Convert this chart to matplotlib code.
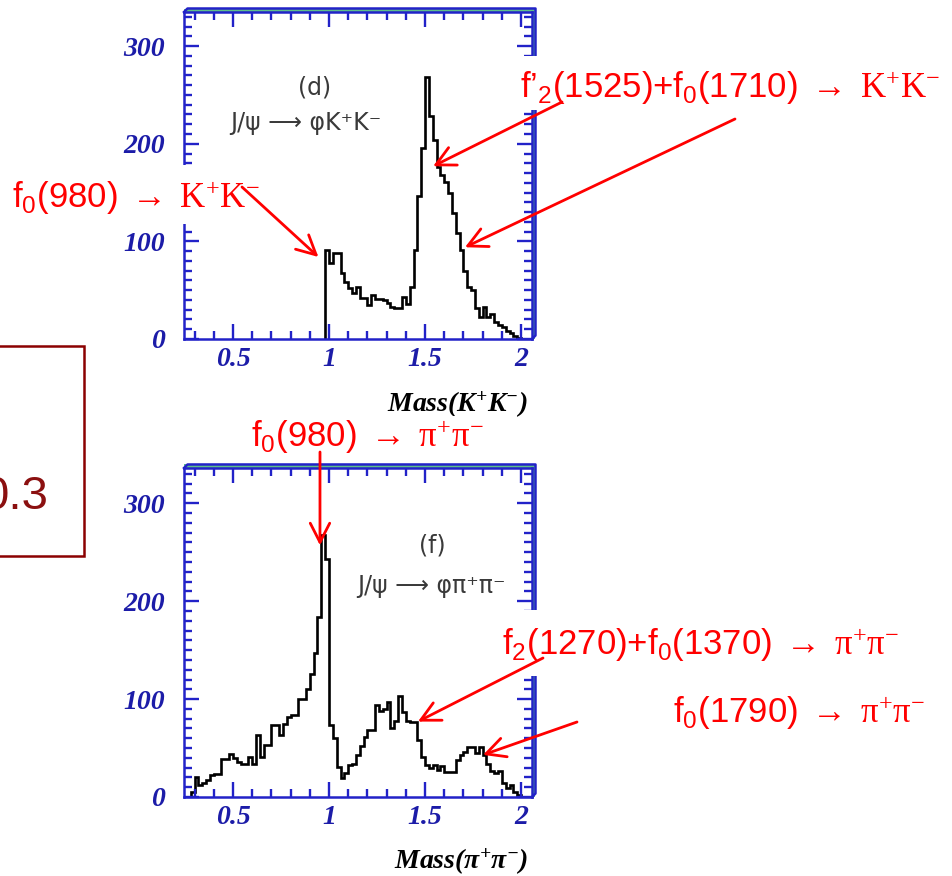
import numpy as np
import matplotlib
matplotlib.use('Agg')
import matplotlib.pyplot as plt
from matplotlib.patches import Rectangle
from matplotlib.lines import Line2D
from matplotlib.text import Annotation

plt.rcParams['mathtext.fontset'] = 'custom'
plt.rcParams['mathtext.rm'] = 'Liberation Sans'
plt.rcParams['mathtext.sf'] = 'Liberation Serif'
plt.rcParams['mathtext.it'] = 'Liberation Sans:italic'
plt.rcParams['mathtext.bfit'] = 'Liberation Serif:italic:bold'

# %% data
bin_width = 0.02

# phi K+K- mass spectrum, panel (d)
kk_start = 0.98
kk_counts = [91, 78, 88, 88, 68, 58, 52, 47, 53, 42,
             42, 35, 45, 41, 41, 40, 37, 33, 32, 32,
             43, 36, 53, 91, 146, 196, 268, 228, 204, 176,
             168, 161, 150, 129, 109, 91, 70, 53, 50, 32,
             23, 33, 23, 26, 17, 14, 12, 8, 6, 3, 1]

# phi pi+pi- mass spectrum, panel (f)
pp_start = 0.28
pp_counts = [5, 20, 12, 14, 17, 22, 24, 24, 39, 39,
             44, 40, 36, 34, 34, 41, 34, 63, 41, 53,
             53, 74, 74, 63, 75, 82, 84, 84, 100, 100,
             110, 126, 147, 184, 268, 243, 74, 60, 31, 19,
             25, 33, 34, 43, 52, 61, 68, 68, 94, 88,
             90, 97, 70, 78, 103, 87, 78, 77, 77, 58,
             41, 33, 30, 33, 28, 32, 26, 26, 26, 38,
             43, 46, 51, 51, 45, 51, 43, 34, 27, 25,
             27, 14, 9, 12, 5, 2]

x_ticks = [0.5, 1, 1.5, 2]
x_tick_labels = ['0.5', '1', '1.5', '2']
y_ticks = [0, 100, 200, 300]
y_tick_labels = ['0', '100', '200', '300']

kk_edges = kk_start + bin_width * np.arange(len(kk_counts) + 1)
pp_edges = pp_start + bin_width * np.arange(len(pp_counts) + 1)

# %% figure
W, H = 953, 876
fig = plt.figure(figsize=(W / 100, H / 100), dpi=100)

def fx(px):
    return px / W

def fy(py):
    return 1 - py / H

blue = '#2222c8'
lblue = '#1c1ca8'
green = '#5fbf8a'
red = '#ff0000'

ax1 = fig.add_axes([fx(184), fy(339), 348 / W, 327 / H])
ax2 = fig.add_axes([fx(184), fy(797), 348 / W, 329 / H])

def style_axes(ax, ytop):
    ax.set_xlim(0.245, 2.057)
    ax.set_ylim(0, ytop)
    ax.set_xticks(x_ticks, labels=x_tick_labels)
    ax.set_yticks(y_ticks, labels=y_tick_labels)
    ax.set_xticks(np.arange(0.3, 2.05, 0.1), minor=True)
    ax.set_yticks(np.arange(0, ytop, 10), minor=True)
    ax.tick_params(which='both', direction='in', top=True, right=True,
                   colors=blue, width=1.7)
    ax.tick_params(which='major', length=11)
    ax.tick_params(which='minor', length=5.5)
    ax.tick_params(axis='y', pad=14)
    ax.tick_params(axis='x', pad=6)
    for lab in ax.get_xticklabels() + ax.get_yticklabels():
        lab.set_fontfamily('Liberation Serif')
        lab.set_fontweight('bold')
        lab.set_fontstyle('italic')
        lab.set_fontsize(20)
        lab.set_color(lblue)
    for sp in ax.spines.values():
        sp.set_color(blue)
        sp.set_linewidth(1.8)
    # ROOT style 3D border
    dx, dy = 3.5 / 348, 3.5 / 327
    ax.add_patch(Rectangle((0, 1), 1 + dx, dy, transform=ax.transAxes,
                           facecolor=green, edgecolor='none', clip_on=False))
    ax.add_patch(Rectangle((1, 0), dx, 1 + dy, transform=ax.transAxes,
                           facecolor=green, edgecolor='none', clip_on=False))
    ax.add_line(Line2D([0, dx, 1 + dx, 1 + dx, 1], [1, 1 + dy, 1 + dy, dy, 0],
                       transform=ax.transAxes, color=blue, lw=1.8, clip_on=False))

style_axes(ax1, 335)
style_axes(ax2, 336)

ax1.stairs(kk_counts, kk_edges, color='black', lw=1.9)
ax2.stairs(pp_counts, pp_edges, color='black', lw=1.9)

# inner panel labels
ax1.text(0.376, 0.77, '(d)', transform=ax1.transAxes, ha='center', va='center',
         fontsize=17, color='#3a3a3a')
ax1.text(0.35, 0.66, 'J/ψ ⟶ φK⁺K⁻', transform=ax1.transAxes, ha='center',
         va='center', fontsize=17, color='#3a3a3a')
ax2.text(0.713, 0.765, '(f)', transform=ax2.transAxes, ha='center', va='center',
         fontsize=17, color='#3a3a3a')
ax2.text(0.71, 0.64, 'J/ψ ⟶ φπ⁺π⁻', transform=ax2.transAxes, ha='center',
         va='center', fontsize=17, color='#3a3a3a')

# axis titles
fig.text(fx(528), fy(405), r'$\mathbfit{Mass(K^{+}K^{-})}$', ha='right', va='center',
         fontsize=20)
fig.text(fx(528), fy(862), r'$\mathbfit{Mass(\pi^{+}\pi^{-})}$', ha='right', va='center',
         fontsize=20)

# white cover patches behind red labels
for (x0, y0, x1, y1) in [(0, 165, 262, 224), (505, 56, 953, 110),
                         (495, 610, 953, 676), (240, 416, 495, 456)]:
    fig.add_artist(Rectangle((fx(x0), fy(y1)), fx(x1) - fx(x0), fy(y0) - fy(y1),
                             transform=fig.transFigure, facecolor='white',
                             edgecolor='none', zorder=5))

# left partial box (cut by the picture edge, as in the source slide)
fig.add_artist(Rectangle((fx(-5), fy(556)), fx(84) - fx(-5), fy(346) - fy(556),
                         transform=fig.transFigure, facecolor='none',
                         edgecolor='#8b0000', lw=1.8, zorder=5))
fig.text(fx(48), fy(497), '0.3', ha='right', va='center', fontsize=34,
         color='#8b1010', family='Liberation Sans', zorder=6)

# red annotations
arr = r'\;\mathsf{\rightarrow}\;'
lab_kw = dict(color=red, fontsize=25, zorder=7, va='center')
fig.text(fx(12), fy(198), r'$\mathrm{f_0(980)}' + arr + r'\mathsf{K^{+}K^{-}}$',
         ha='left', **lab_kw)
fig.text(fx(520), fy(88), r'$\mathrm{f’_2(1525)}{+}\mathrm{f_0(1710)}' + arr + r'\mathsf{K^{+}K^{-}}$',
         ha='left', **lab_kw)
fig.text(fx(367), fy(437), r'$\mathrm{f_0(980)}' + arr + r'\mathsf{\pi^{+}\pi^{-}}$',
         ha='center', **lab_kw)
fig.text(fx(502), fy(645), r'$\mathrm{f_2(1270)}{+}\mathrm{f_0(1370)}' + arr + r'\mathsf{\pi^{+}\pi^{-}}$',
         ha='left', **lab_kw)
fig.text(fx(673), fy(713), r'$\mathrm{f_0(1790)}' + arr + r'\mathsf{\pi^{+}\pi^{-}}$',
         ha='left', **lab_kw)

arrow_kw = dict(arrowstyle='->,head_length=0.55,head_width=0.28', color=red,
                lw=2, mutation_scale=25, shrinkA=0, shrinkB=0)
arrows = [(ax1, (0.945, 84), (242, 187)),
          (ax1, (1.542, 177), (562, 102)),
          (ax1, (1.708, 94), (735, 119)),
          (ax2, (0.953, 257), (320, 452)),
          (ax2, (1.463, 77), (543, 658)),
          (ax2, (1.802, 43), (577, 722))]
for ax, tip, start in arrows:
    ann = Annotation('', xy=tip, xycoords=ax.transData,
                     xytext=(fx(start[0]), fy(start[1])),
                     textcoords='figure fraction', arrowprops=arrow_kw,
                     annotation_clip=False)
    ann.set_zorder(8)
    fig.add_artist(ann)

fig.savefig('out.png', dpi=100)
